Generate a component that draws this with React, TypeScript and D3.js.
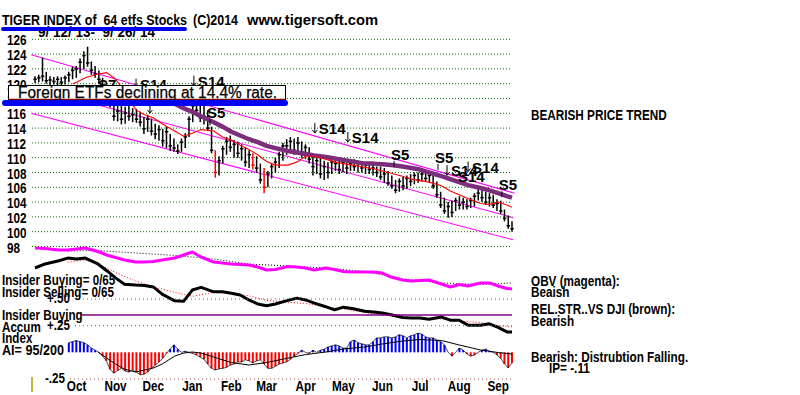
import React from 'react';
import * as d3 from 'd3';

// price bars, one bar every second session, 9/12/13 .. 9/26/14
const barHigh = [
  121.0, 121.2, 123.5, 121.6, 121.0, 120.9, 121.0, 120.9, 121.1, 121.6,
  122.3, 122.4, 123.4, 124.4, 125.0, 123.0, 122.4, 121.8, 120.8, 120.2,
  119.0, 117.8, 117.2, 117.0, 116.9, 117.0, 116.7, 116.6, 116.2, 115.5,
  115.8, 115.3, 114.6, 114.4, 113.9, 114.2, 113.2, 112.6, 111.8, 112.6,
  113.3, 115.6, 117.6, 118.6, 117.6, 117.8, 116.4, 114.2, 111.0, 110.2,
  111.6, 112.8, 113.0, 112.4, 112.2, 111.8, 111.4, 111.0, 110.6, 110.2,
  109.2, 108.6, 108.2, 109.2, 110.0, 110.8, 112.0, 112.5, 112.8, 112.6,
  112.8, 112.2, 111.8, 111.4, 110.6, 110.2, 110.0, 109.6, 109.4, 109.8,
  110.0, 109.6, 109.8, 109.6, 109.6, 109.8, 109.6, 109.5, 109.4, 109.2,
  109.0, 108.8, 108.8, 108.6, 108.2, 107.6, 107.0, 107.2, 107.4, 107.6,
  107.8, 108.0, 108.0, 108.2, 108.3, 108.0, 107.6, 106.8, 105.4, 104.6,
  104.0, 104.2, 104.6, 104.8, 104.6, 104.4, 104.6, 105.2, 106.0, 105.6,
  105.4, 105.2, 105.0, 104.4, 104.2, 103.0, 102.2, 101.4,
];
const barLow = [
  120.1, 120.2, 120.3, 120.0, 119.8, 119.9, 119.8, 119.7, 119.9, 120.2,
  120.6, 120.8, 121.4, 122.0, 122.3, 121.2, 120.8, 120.0, 119.0, 118.4,
  116.8, 115.0, 114.9, 114.5, 114.6, 115.0, 114.8, 114.7, 114.2, 113.2,
  113.5, 113.0, 112.5, 112.3, 111.5, 111.3, 110.9, 110.8, 110.5, 110.8,
  111.3, 112.8, 114.8, 115.6, 114.8, 114.5, 113.6, 110.6, 107.3, 107.6,
  109.2, 110.4, 110.8, 110.0, 110.0, 109.6, 108.8, 108.6, 108.4, 108.0,
  106.5, 105.2, 106.0, 107.2, 108.0, 108.6, 109.6, 110.4, 110.6, 110.4,
  110.6, 110.0, 109.8, 109.2, 107.6, 107.8, 107.2, 107.0, 107.2, 107.8,
  108.2, 107.8, 108.0, 107.8, 108.2, 108.2, 108.0, 108.0, 107.8, 107.8,
  107.6, 107.4, 107.0, 106.6, 106.2, 105.8, 105.2, 105.4, 105.6, 105.8,
  106.2, 106.4, 106.6, 106.8, 106.8, 106.6, 105.8, 104.6, 103.2, 102.4,
  101.9, 102.0, 102.8, 103.0, 103.0, 103.0, 103.2, 103.4, 104.2, 104.0,
  103.6, 103.4, 103.2, 102.8, 102.4, 101.4, 100.4, 100.0,
];
const barClose = [
  120.6, 120.8, 121.0, 120.4, 120.5, 120.3, 120.6, 120.2, 120.8, 121.2,
  121.8, 122.0, 122.9, 123.8, 122.8, 121.8, 121.3, 120.6, 119.5, 119.0,
  117.3, 115.6, 116.3, 115.2, 116.0, 115.6, 115.8, 115.2, 114.8, 113.9,
  115.2, 113.6, 113.2, 113.8, 112.3, 113.5, 111.6, 111.3, 110.9, 112.1,
  112.8, 115.2, 117.0, 116.4, 115.4, 115.6, 114.0, 111.0, 108.0, 109.6,
  111.2, 112.2, 111.4, 111.8, 110.6, 111.2, 109.4, 110.4, 109.0, 108.6,
  107.0, 106.0, 107.8, 108.8, 109.4, 110.4, 111.6, 111.6, 112.2, 111.0,
  112.0, 110.8, 111.4, 109.8, 108.8, 109.6, 107.8, 108.8, 108.0, 109.4,
  109.2, 108.4, 109.4, 108.6, 109.2, 108.8, 109.2, 108.6, 109.0, 108.4,
  108.6, 108.0, 107.4, 107.8, 106.6, 106.2, 105.6, 106.8, 106.2, 107.2,
  106.8, 107.6, 107.0, 107.8, 107.2, 107.6, 106.2, 105.0, 103.6, 102.8,
  103.4, 102.6, 104.2, 103.6, 104.0, 103.4, 104.2, 104.8, 105.2, 104.6,
  104.0, 104.6, 103.6, 103.8, 102.8, 101.8, 100.8, 100.4,
];
const redBars = [48, 58, 61];

const priceTicks = [98, 100, 102, 104, 106, 108, 110, 112, 114, 116, 118, 120, 122, 124, 126];
const monthNames = ['Oct', 'Nov', 'Dec', 'Jan', 'Feb', 'Mar', 'Apr', 'May', 'Jun', 'Jul', 'Aug', 'Sep'];
const monthMids = [
  '2013-10-15', '2013-11-15', '2013-12-15', '2014-01-15', '2014-02-15', '2014-03-15',
  '2014-04-15', '2014-05-15', '2014-06-15', '2014-07-15', '2014-08-15', '2014-09-15',
];

// 21-day (red) and 65-day (purple) averages
const ma21: [string, number][] = [
  ['2013-10-12', 120.0], ['2013-10-15', 120.2], ['2013-10-22', 120.8], ['2013-11-01', 121.3],
  ['2013-11-08', 121.5], ['2013-11-15', 120.6], ['2013-11-22', 119.0], ['2013-12-01', 116.5],
  ['2013-12-08', 115.8], ['2013-12-15', 115.4], ['2013-12-22', 114.6], ['2014-01-01', 113.6],
  ['2014-01-08', 112.9], ['2014-01-15', 113.3], ['2014-01-22', 113.8], ['2014-02-01', 113.6],
  ['2014-02-08', 112.8], ['2014-02-15', 112.4], ['2014-02-22', 111.7], ['2014-03-01', 111.1],
  ['2014-03-08', 110.4], ['2014-03-15', 109.5], ['2014-03-22', 109.0], ['2014-04-01', 109.0],
  ['2014-04-08', 109.4], ['2014-04-15', 110.2], ['2014-04-22', 110.2], ['2014-05-01', 109.8],
  ['2014-05-08', 109.4], ['2014-05-15', 109.2], ['2014-05-22', 109.0], ['2014-06-01', 108.7],
  ['2014-06-08', 108.5], ['2014-06-15', 108.2], ['2014-06-22', 107.9], ['2014-07-01', 107.5],
  ['2014-07-08', 107.1], ['2014-07-15', 106.9], ['2014-07-22', 106.7], ['2014-08-01', 106.2],
  ['2014-08-08', 105.5], ['2014-08-15', 105.0], ['2014-08-22', 104.5], ['2014-09-01', 103.8],
  ['2014-09-08', 103.7], ['2014-09-15', 104.0], ['2014-09-22', 103.6], ['2014-09-26', 103.3],
];
const ma65: [string, number][] = [
  ['2013-12-18', 118.3], ['2013-12-22', 118.0], ['2014-01-01', 117.3], ['2014-01-08', 116.7],
  ['2014-01-15', 116.2], ['2014-01-22', 115.6], ['2014-02-01', 114.8], ['2014-02-08', 114.2],
  ['2014-02-15', 113.5], ['2014-02-22', 113.0], ['2014-03-01', 112.5], ['2014-03-08', 112.1],
  ['2014-03-15', 111.6], ['2014-03-22', 111.3], ['2014-04-01', 110.9], ['2014-04-08', 110.7],
  ['2014-04-15', 110.5], ['2014-04-22', 110.3], ['2014-05-01', 110.1], ['2014-05-08', 109.9],
  ['2014-05-15', 109.7], ['2014-05-22', 109.5], ['2014-06-01', 109.2], ['2014-06-08', 109.2],
  ['2014-06-15', 109.1], ['2014-06-22', 109.0], ['2014-07-01', 108.8], ['2014-07-08', 108.6],
  ['2014-07-15', 108.4], ['2014-07-22', 108.0], ['2014-08-01', 107.5], ['2014-08-08', 107.1],
  ['2014-08-15', 106.7], ['2014-08-22', 106.3], ['2014-09-01', 105.9], ['2014-09-08', 105.6],
  ['2014-09-15', 105.2], ['2014-09-22', 104.8], ['2014-09-26', 104.6],
];

// channel lines
const channelUpper: [string, number][] = [['2013-09-09', 123.9], ['2014-09-28', 105.2]];
const channelMid: [string, number][] = [['2013-11-02', 117.1], ['2014-09-27', 101.9]];
const channelLower: [string, number][] = [['2013-09-09', 116.0], ['2014-09-27', 98.9]];

// signals: bar index, price level of the label baseline
const signals = [
  { label: 'S7', i: 16.8, price: 119.2, arrow: false, tick: false },
  { label: 'S14', i: 26.9, price: 119.2, arrow: true, tick: false },
  { label: '', i: 30.6, price: 115.9, arrow: true, tick: false },
  { label: 'S14', i: 42.3, price: 119.6, arrow: true, tick: false },
  { label: 'S5', i: 45.8, price: 115.3, arrow: false, tick: true },
  { label: 'S14', i: 74.5, price: 113.2, arrow: true, tick: false },
  { label: 'S14', i: 83.3, price: 112.0, arrow: true, tick: false },
  { label: 'S5', i: 94.8, price: 109.7, arrow: false, tick: true },
  { label: 'S5', i: 106.5, price: 109.3, arrow: false, tick: true },
  { label: 'S14', i: 109.7, price: 107.5, arrow: true, tick: false },
  { label: 'S14', i: 112.6, price: 106.7, arrow: false, tick: false },
  { label: 'S14', i: 115.3, price: 108.0, arrow: true, tick: false },
  { label: 'S5', i: 123.5, price: 105.6, arrow: false, tick: true },
];

// OBV (magenta) and its average
const obv: [string, number][] = [
  ['2013-09-12', -2.7], ['2013-09-20', -3.2], ['2013-10-01', -4.5], ['2013-10-08', -4.5],
  ['2013-10-15', -3.6], ['2013-10-22', -2.7], ['2013-11-01', -5.9], ['2013-11-08', -9.1],
  ['2013-11-15', -11.4], ['2013-11-22', -13.6], ['2013-12-01', -15.5], ['2013-12-08', -15.5],
  ['2013-12-15', -15.0], ['2013-12-22', -13.6], ['2014-01-01', -11.8], ['2014-01-08', -9.1],
  ['2014-01-15', -6.4], ['2014-01-22', -10.9], ['2014-02-01', -15.5], ['2014-02-08', -16.4],
  ['2014-02-15', -17.3], ['2014-02-22', -17.7], ['2014-03-01', -18.2], ['2014-03-08', -20.0],
  ['2014-03-15', -22.7], ['2014-03-22', -22.3], ['2014-04-01', -19.5], ['2014-04-08', -20.0],
  ['2014-04-15', -20.9], ['2014-04-22', -22.7], ['2014-05-01', -20.9], ['2014-05-08', -22.3],
  ['2014-05-15', -24.1], ['2014-05-22', -24.5], ['2014-06-01', -24.5], ['2014-06-08', -24.5],
  ['2014-06-15', -25.5], ['2014-06-22', -29.1], ['2014-07-01', -31.8], ['2014-07-08', -32.7],
  ['2014-07-15', -32.3], ['2014-07-22', -31.8], ['2014-08-01', -35.5], ['2014-08-08', -38.2],
  ['2014-08-15', -35.9], ['2014-08-22', -37.3], ['2014-09-01', -34.5], ['2014-09-08', -34.5],
  ['2014-09-15', -37.3], ['2014-09-22', -39.5], ['2014-09-26', -40.0],
];
const obvAvg: [string, number][] = [
  ['2013-10-08', -5.5], ['2013-11-01', -5.0], ['2013-12-01', -7.3], ['2014-01-01', -9.5],
  ['2014-02-01', -12.7], ['2014-03-01', -17.3], ['2014-04-01', -19.1], ['2014-05-01', -20.9],
  ['2014-06-01', -24.1], ['2014-07-01', -30.9], ['2014-08-01', -34.5], ['2014-09-01', -35.9],
  ['2014-09-26', -34.5],
];

// relative strength vs DJI (black) and its average (red dots)
const relStr: [string, number][] = [
  ['2013-09-12', 96.0], ['2013-09-20', 96.9], ['2013-10-01', 97.6], ['2013-10-08', 98.2],
  ['2013-10-15', 98.0], ['2013-10-22', 98.2], ['2013-11-01', 96.9], ['2013-11-08', 95.4],
  ['2013-11-15', 93.8], ['2013-11-22', 92.4], ['2013-12-01', 92.2], ['2013-12-08', 92.1],
  ['2013-12-15', 91.8], ['2013-12-22', 90.2], ['2014-01-01', 88.7], ['2014-01-08', 88.6],
  ['2014-01-15', 91.1], ['2014-01-22', 91.7], ['2014-02-01', 90.7], ['2014-02-08', 90.7],
  ['2014-02-15', 90.4], ['2014-02-22', 90.0], ['2014-03-01', 88.9], ['2014-03-08', 88.0],
  ['2014-03-15', 87.6], ['2014-03-22', 88.0], ['2014-04-01', 88.8], ['2014-04-08', 89.3],
  ['2014-04-15', 88.9], ['2014-04-22', 88.2], ['2014-05-01', 87.4], ['2014-05-08', 86.7],
  ['2014-05-15', 87.3], ['2014-05-22', 87.0], ['2014-06-01', 86.4], ['2014-06-08', 86.2],
  ['2014-06-15', 86.0], ['2014-06-22', 85.6], ['2014-07-01', 85.0], ['2014-07-08', 84.9],
  ['2014-07-15', 84.9], ['2014-07-22', 84.6], ['2014-08-01', 85.1], ['2014-08-08', 84.4],
  ['2014-08-15', 84.4], ['2014-08-22', 83.3], ['2014-09-01', 83.3], ['2014-09-08', 83.6],
  ['2014-09-15', 82.8], ['2014-09-22', 81.8], ['2014-09-26', 81.8],
];
const relStrAvg: [string, number][] = [
  ['2013-10-08', 97.3], ['2013-10-22', 97.8], ['2013-11-01', 96.9], ['2013-11-15', 95.0],
  ['2013-12-01', 93.1], ['2013-12-15', 91.8], ['2014-01-01', 90.6], ['2014-01-15', 89.7],
  ['2014-02-01', 90.6], ['2014-02-15', 90.4], ['2014-03-01', 89.8], ['2014-03-15', 88.8],
  ['2014-04-01', 88.4], ['2014-04-15', 88.1], ['2014-05-01', 87.4], ['2014-05-15', 86.9],
  ['2014-06-01', 86.1], ['2014-06-15', 85.6], ['2014-07-01', 85.0], ['2014-07-15', 84.9],
  ['2014-08-01', 84.7], ['2014-08-15', 84.2], ['2014-09-01', 83.9], ['2014-09-15', 83.2],
  ['2014-09-26', 82.9],
];

// accumulation index, same sessions as the price bars
const accum: (number | null)[] = [
  null, null, null, null, null, null, null, null, null, 0.09,
  0.10, 0.11, 0.10, 0.09, 0.07, 0.04, 0.02, 0.00, -0.035, -0.08,
  -0.16, -0.195, -0.17, -0.15, -0.175, -0.185, -0.165, -0.185, -0.21, -0.205,
  -0.185, -0.15, -0.12, -0.09, -0.055, -0.01, 0.03, 0.07, 0.03, 0.00,
  0.01, 0.00, -0.01, -0.025, -0.045, -0.065, -0.11, -0.15, -0.165, -0.155,
  -0.15, -0.14, -0.12, -0.11, -0.09, -0.09, -0.07, -0.08, -0.10, -0.08,
  -0.07, -0.11, -0.15, -0.15, -0.13, -0.11, -0.10, -0.09, -0.065, -0.035,
  -0.01, 0.02, 0.00, -0.01, 0.02, 0.00, 0.02, 0.03, 0.05, 0.06,
  0.07, 0.06, 0.04, 0.04, 0.10, 0.115, 0.09, 0.08, 0.07, 0.07,
  0.10, 0.135, 0.135, 0.145, 0.145, 0.135, 0.145, 0.165, 0.155, 0.135,
  0.155, 0.165, 0.18, 0.17, 0.145, 0.135, 0.135, 0.115, 0.10, 0.07,
  0.00, -0.035, 0.00, 0.04, 0.02, -0.015, -0.035, -0.025, 0.00, 0.02,
  0.03, 0.01, 0.00, -0.025, -0.055, -0.11, -0.145, -0.10,
];
const accumAvg: [string, number][] = [
  ['2013-11-01', 0.003], ['2013-11-08', -0.054], ['2013-11-15', -0.11], ['2013-11-22', -0.157],
  ['2013-12-01', -0.185], ['2013-12-08', -0.166], ['2013-12-15', -0.147], ['2013-12-22', -0.11],
  ['2014-01-01', -0.035], ['2014-01-08', -0.007], ['2014-01-15', 0.003], ['2014-01-22', -0.007],
  ['2014-02-01', -0.044], ['2014-02-15', -0.096], ['2014-03-01', -0.119], ['2014-03-15', -0.096],
  ['2014-04-01', -0.054], ['2014-04-15', -0.021], ['2014-05-01', 0.003], ['2014-05-15', 0.031],
  ['2014-06-01', 0.05], ['2014-06-15', 0.078], ['2014-07-01', 0.106], ['2014-07-15', 0.12],
  ['2014-08-01', 0.111], ['2014-08-15', 0.069], ['2014-09-01', 0.022], ['2014-09-15', -0.002],
  ['2014-09-26', -0.016],
];
const accumLevels = [0.5, 0.25, -0.25];
const insiderBuyingLevel = 0.35;

const FONT = "'Liberation Sans', Arial, Helvetica, sans-serif";

const Txt: React.FC<{
  x: number; y: number; size?: number; sx?: number; weight?: string;
  anchor?: 'start' | 'middle' | 'end'; fill?: string; children: React.ReactNode;
}> = ({ x, y, size = 14, sx = 0.84, weight = 'bold', anchor = 'start', fill = '#000', children }) => (
  <text
    transform={`translate(${x},${y}) scale(${sx},1)`}
    fontSize={size}
    fontWeight={weight}
    textAnchor={anchor}
    fill={fill}
    xmlSpace="preserve"
    style={{ whiteSpace: 'pre' }}
  >
    {children}
  </text>
);

export default function App() {
  const parse = d3.timeParse('%Y-%m-%d');
  const day = (s: string) => parse(s) as Date;

  const x = d3.scaleTime().domain([day('2013-09-12'), day('2014-09-26')]).range([35, 512]);
  const xb = d3.scaleLinear().domain([0, barHigh.length - 1]).range([35, 512]);
  const yP = d3.scaleLinear().domain([98, 126]).range([246.5, 39.3]);
  const yObv = d3.scaleLinear().domain([-50, 0]).range([300, 245]);
  const yRs = d3.scaleLinear().domain([80, 100]).range([340, 250]);
  const yAi = d3.scaleLinear().domain([-0.25, 0.5]).range([379, 299]);

  const path = (data: [string, number][], ys: d3.ScaleLinear<number, number>) =>
    d3.line<[string, number]>()
      .x(d => x(day(d[0])))
      .y(d => ys(d[1]))(data) || '';

  const accumEnvelope = d3.line<number | null>()
    .defined(d => d !== null)
    .x((_, i) => xb(i))
    .y(d => yAi(d as number))(accum) || '';

  const gx0 = 32;
  const gx1 = 512;

  return (
    <svg
      width={800}
      height={395}
      style={{ position: 'absolute', left: 0, top: 0, background: '#fff' }}
      fontFamily={FONT}
    >
      <rect width={800} height={395} fill="#fff" />

      {/* price grid */}
      {priceTicks.map(t => (
        <line key={`g${t}`} x1={gx0} x2={gx1} y1={yP(t)} y2={yP(t)}
          stroke="#007000" strokeWidth={1} strokeDasharray="1 2" />
      ))}
      {priceTicks.map(t => (
        <Txt key={`t${t}`} x={7} y={yP(t) + 6}>{String(t)}</Txt>
      ))}

      {/* channel */}
      {[channelUpper, channelMid, channelLower].map((c, k) => (
        <path key={`c${k}`} d={path(c, yP)} fill="none" stroke="#ff00ff" strokeWidth={1.1} />
      ))}

      {/* price bars */}
      {barHigh.map((h, i) => {
        const col = redBars.includes(i) ? '#ff0000' : '#000';
        const xi = xb(i);
        return (
          <g key={`b${i}`} stroke={col} strokeWidth={1.5}>
            <line x1={xi} x2={xi} y1={yP(h)} y2={yP(barLow[i])} />
            <line x1={xi - 1.6} x2={xi + 1.8} y1={yP(barClose[i])} y2={yP(barClose[i])} />
          </g>
        );
      })}

      <path d={path(ma65, yP)} fill="none" stroke="#7a2e7c" strokeWidth={4.5} strokeLinejoin="round" />
      <path d={path(ma21, yP)} fill="none" stroke="#ff0000" strokeWidth={1.1} />

      {/* signals */}
      {signals.map((s, k) => {
        const ax = xb(s.i);
        const by = yP(s.price);
        return (
          <g key={`s${k}`}>
            {s.arrow && (
              <g stroke="#000" strokeWidth={1} fill="none">
                <line x1={ax} x2={ax} y1={by - 11} y2={by - 1} />
                <polyline points={`${ax - 2.5},${by - 4} ${ax},${by - 1} ${ax + 2.5},${by - 4}`} />
              </g>
            )}
            {s.tick && (
              <line x1={ax + 3} x2={ax + 3} y1={by + 1} y2={by + 7} stroke="#000" strokeWidth={1} />
            )}
            {s.label && (
              <Txt x={s.arrow ? ax + 4 : ax} y={by} size={15} sx={1}>{s.label}</Txt>
            )}
          </g>
        );
      })}

      {/* title */}
      <text x={2} y={25} fontSize={14} fontWeight="bold" textLength={185}
        lengthAdjust="spacingAndGlyphs" xmlSpace="preserve" style={{ whiteSpace: 'pre' }}>
        TIGER INDEX of  64 etfs Stocks
      </text>
      <text x={193} y={25} fontSize={14} fontWeight="bold" textLength={45} lengthAdjust="spacingAndGlyphs">(C)2014</text>
      <text x={247} y={25} fontSize={14} fontWeight="bold" textLength={131} lengthAdjust="spacingAndGlyphs">www.tigersoft.com</text>
      <text x={38} y={37} fontSize={14} fontWeight="bold" textLength={117}
        lengthAdjust="spacingAndGlyphs" xmlSpace="preserve" style={{ whiteSpace: 'pre' }}>
        9/ 12/ 13-  9/ 26/ 14
      </text>
      <line x1={3} x2={185} y1={29} y2={29} stroke="#0000f0" strokeWidth={4} strokeLinecap="round" />

      {/* note box */}
      <rect x={8.5} y={85.5} width={277} height={14} fill="#fff" stroke="#000" strokeWidth={1} />
      <line x1={8} x2={286} y1={99.5} y2={99.5} stroke="#800000" strokeWidth={1.5} />
      <text x={18} y={97.5} fontSize={16} textLength={259} lengthAdjust="spacingAndGlyphs"
        stroke="#000" strokeWidth={0.25}>
        Foreign ETFs declining at 14.4% rate.
      </text>
      <line x1={5} x2={285} y1={103} y2={103} stroke="#0000f0" strokeWidth={6} strokeLinecap="round" />

      {/* OBV and relative strength */}
      <path d={path(obvAvg, yObv)} fill="none" stroke="#000" strokeWidth={1} strokeDasharray="1 2" />
      <path d={path(obv, yObv)} fill="none" stroke="#ff00ff" strokeWidth={3} strokeLinejoin="round" />
      <path d={path(relStrAvg, yRs)} fill="none" stroke="#ff0000" strokeWidth={1} strokeDasharray="1 2" />
      <path d={path(relStr, yRs)} fill="none" stroke="#000" strokeWidth={3} strokeLinejoin="round" />

      {/* accumulation index */}
      {accumLevels.map(v => (
        <line key={`a${v}`} x1={v < 0 ? 70 : 75} x2={gx1} y1={yAi(v)} y2={yAi(v)}
          stroke="#a05050" strokeWidth={1} strokeDasharray="1 3" />
      ))}
      <line x1={82} x2={gx1} y1={yAi(insiderBuyingLevel)} y2={yAi(insiderBuyingLevel)}
        stroke="#800080" strokeWidth={1.5} />
      {accum.map((v, i) => v === null ? null : (
        <rect key={`h${i}`} x={xb(i) - 1} width={2}
          y={Math.min(yAi(0), yAi(v))} height={Math.abs(yAi(v) - yAi(0))}
          fill={v >= 0 ? '#0000ff' : '#ff0000'} />
      ))}
      <path d={accumEnvelope} fill="none" stroke="#000" strokeWidth={0.7} />
      <path d={path(accumAvg, yAi)} fill="none" stroke="#000" strokeWidth={1} />
      <line x1={32} x2={32} y1={377} y2={392} stroke="#a0a000" strokeWidth={1.5} />

      {/* left captions */}
      <Txt x={2} y={285} sx={0.83}>Insider Buying= 0/65</Txt>
      <Txt x={2} y={297} sx={0.83}>Insider Selling= 0/65</Txt>
      <Txt x={47} y={303} sx={0.83}>+.50</Txt>
      <Txt x={2} y={320} sx={0.83}>Insider Buying</Txt>
      <Txt x={2} y={332} sx={0.83}>Accum</Txt>
      <Txt x={47} y={330} sx={0.83}>+.25</Txt>
      <Txt x={2} y={343} sx={0.83}>Index</Txt>
      <Txt x={2} y={355} sx={0.9}>AI= 95/200</Txt>
      <Txt x={45} y={383} sx={0.83}>-.25</Txt>

      {/* months */}
      {monthNames.map((m, k) => (
        <Txt key={m} x={x(day(monthMids[k]))} y={391} anchor="middle">{m}</Txt>
      ))}

      {/* right captions */}
      <Txt x={531} y={120}>BEARISH PRICE TREND</Txt>
      <Txt x={531} y={286}>OBV (magenta):</Txt>
      <Txt x={531} y={297}>Beaish</Txt>
      <Txt x={531} y={314}>REL.STR..VS DJI (brown):</Txt>
      <Txt x={531} y={326}>Bearish</Txt>
      <Txt x={531} y={362}>Bearish: Distrubtion Falling.</Txt>
      <Txt x={549} y={373}>IP= -.11</Txt>
    </svg>
  );
}
